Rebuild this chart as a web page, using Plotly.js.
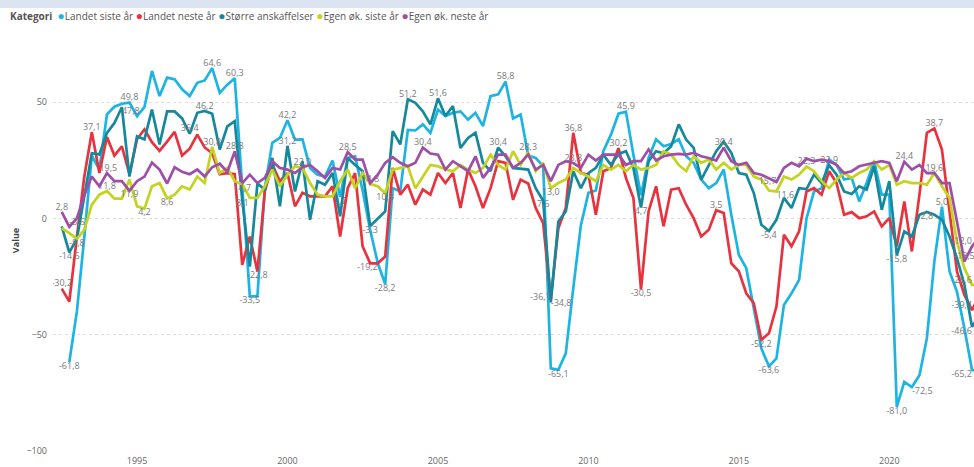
<!DOCTYPE html>
<html><head><meta charset="utf-8">
<script src="https://cdn.plot.ly/plotly-3.0.1.min.js"></script>
<style>
html,body{margin:0;padding:0;overflow:hidden;background:#fff;}
#band{position:absolute;left:0;top:0;width:974px;height:8px;background:#dbe4f0;z-index:5;}
#chart{position:absolute;left:0;top:0;width:974px;height:467px;}
</style></head><body>
<div id="chart"></div>
<div id="band"></div>
<script>
// Quarterly categories start at 1992 Q3
const startYear = 1992, startQuarter = 3, nQuarters = 123;

const seriesNames = ["Landet siste år", "Landet neste år", "Større anskaffelser", "Egen øk. siste år", "Egen øk. neste år"];
const seriesColors = ["#1DB4E4", "#E8333F", "#15899B", "#C3D31E", "#9E4EA6"];

const landetSiste = [
  null, -61.8, -40, -8, 27, 21, 44.7, 48, 49.3, 49.8,
  44, 47.8, 63.4, 52.6, 60.5, 59.8, 55.5, 52.6, 58.3, 59.3,
  64.6, 54, 57.5, 60.3, 12, -33.5, -33.5, 13, 32.5, 34.6,
  42.2, 33.9, 34, 21.7, 18.8, 18, 24.9, 9.2, 26, 26.7,
  12, -5, -19.2, -28.2, 13, 11.6, 38, 37.8, 40.4, 36.8,
  46.8, 44, 45.4, 46, 42.5, 45.4, 39.7, 52.6, 53.3, 58.8,
  43, 44.7, 27, 26, 22.4, -64.5, -65.1, -58, -30, -3,
  11, 12, 28.9, 36, 45, 45.9, 27.4, 10, 26, 34,
  31, 32, 34, 26.7, 23.9, 16.7, 13, 15.2, 21, 1.6,
  -15.7, -21.4, -38.6, -55.9, -63.6, -60.2, -37.2, -32.2, -26.4, 0,
  11.6, 13, 25.3, 23, 16.7, 17.4, 7.3, 15.2, 24.6, 10.2,
  10.2, -81, -70.3, -72.5, -67.4, -51.6, -18.5, 5, -22.8, -31.5,
  -47.3, -65.2, -65.5
];
const landetNeste = [
  -30.2, -35.8, -8, 18, 37.1, 19.5, 35, 27, 31, 19,
  34, 38.3, 32.8, 29, 33, 37.2, 27, 30, 36, 30.5,
  28, 19, 19.5, 19, -20, -7.8, -22.8, 11.6, 23, 16,
  19.5, 5.2, 11, 9.5, 9.5, 9.5, 13.8, -7.8, 13, 19.5,
  -12, -19.3, -19.3, -16.4, 21.7, 10.2, 14.5, 5.9, 12.4, 10.2,
  19.5, 15.2, 19.5, 4.5, 21, 13.8, 4.5, 13, 24.6, 23.9,
  8, 16.7, 15, 4.5, -2, -34.8, -4.2, 4.5, 36.8, 19.5,
  18.8, 1.6, 20.3, 21.7, 30.2, 17.4, 8.8, -30.5, 3, 13.8,
  -3.4, 12.4, 13, 5.9, 0.1, -7.8, -4.9, 3.5, 2.3, -19.3,
  -22.8, -32.2, -36.5, -52.2, -49.4, -37.9, -7, -12, -5.6, 11.6,
  13, 10.2, 20.3, 15.2, 1.6, 2.7, 0.1, 0.9, 3, -3.4,
  0.1, -12, 7.3, -14.2, 10.2, 36.8, 38.7, 29.6, 3, -22.8,
  -32.9, -39.4, -33
];
const storreAnskaffelser = [
  -3.4, -14.6, -8.8, 10, 28, 27.5, 36.8, 41, 47.8, 18,
  35.3, 34, 46.8, 31.8, 46, 46, 43, 36.4, 45.4, 46.2,
  45, 29.6, 39.6, 41.8, 8.1, -20.7, 15, 12.4, 26, 5.2,
  31.2, 11.6, 24.6, -0.6, 16, 14.5, 19.5, 0.9, 26, 23,
  20.3, -3.3, 0.1, 3, 37.5, 31.8, 51.2, 49.7, 46, 40.4,
  51.6, 44, 48.3, 30.3, 34.6, 36.8, 23.9, 20.3, 30.4, 26.7,
  21.7, 21.4, 21, 13, 7.6, -36.1, -1.3, 3, 20.3, 13,
  19.5, 21.7, 27.4, 23, 27.7, 28.9, 21.7, 4.7, 24.6, 28.9,
  28, 31, 40.4, 33.9, 30.3, 16.7, 23, 28.9, 33, 28.2,
  19.5, 18.8, 10.9, -2.7, -5.4, -0.6, 8.8, 4.5, 13, 12.6,
  18.8, 15.2, 22.9, 18.8, 11.6, 10.5, 13.8, 12.4, 22.4, 3.7,
  16, -15.8, -5.6, -7.8, 1.6, 2.8, 1.6, -0.6, -7.8, -17.1,
  -28.6, -46.6, -41.5
];
const egenSiste = [
  -4.2, -6.3, -8.8, -4.9, 5.9, 10.2, 11.8, 8.5, 8.5, 16.7,
  5.2, 4.2, 13.8, 15.2, 8.6, 10.2, 13.8, 12.4, 18, 15.2,
  30.8, 19.5, 21.7, 16, 14.7, 8.8, 8.8, 13.8, 21, 13.8,
  18.8, 22.4, 21.7, 15.2, 10.2, 9.5, 9.5, 16, 21, 13,
  19.5, 14.8, 13.8, 10.8, 21, 21.7, 22.4, 13, 18, 23,
  22.4, 21, 20.3, 23, 21, 19.5, 21.7, 27.4, 23, 21,
  28.9, 23, 28.3, 20.3, 23.9, 13, 15.2, 16.7, 21.7, 19.5,
  18, 16, 23, 21, 23, 20.3, 23, 21, 21.7, 23,
  28.9, 27.4, 23, 20.3, 26.7, 23.9, 25.3, 21, 23.9, 21,
  23, 23, 18, 16.7, 12, 11.6, 18, 16.7, 18.8, 22.3,
  20.3, 16, 13, 16.7, 19.5, 17.4, 19.5, 21, 24.6, 21,
  23, 14.5, 16, 15.2, 15.2, 14.5, 19.5, 13.8, 8.8, -10,
  -21.4, -28.6, -28.6
];
const egenNeste = [
  2.8, -3.6, 0, 10, 18, 13.8, 19.5, 16, 16, 11.9,
  16, 18, 24, 21, 15, 22, 20, 19, 21, 18,
  22, 23.5, 20, 28.8, 15.2, 18.8, 15.2, 17.4, 24.6, 21.7,
  21, 19.5, 22.0, 23, 20.3, 17.4, 21.7, 21, 28.5, 25.3,
  25.3, 15.2, 18.8, 23.9, 26.3, 23.9, 22.4, 23.9, 30.4, 27.9,
  27.4, 21, 24.6, 22.4, 20.3, 26.7, 17.4, 21.7, 27.4, 27.4,
  21.7, 23.9, 27.4, 21, 23, 16, 23, 24.6, 23.8, 21.7,
  27.4, 24.9, 27.4, 27.4, 27.4, 23, 24.6, 24.6, 29.6, 24.9,
  26.7, 27.4, 27.7, 27.4, 28.2, 26.7, 26, 24.9, 30.4, 24.6,
  23, 23.9, 19.5, 18.8, 17.4, 15.7, 21.7, 23.9, 22.4, 25.7,
  24.6, 25.3, 24.6, 23, 19.5, 20.3, 22.4, 23, 23.9, 24.6,
  23.9, 16, 24.4, 21, 23, 19.5, 19.6, 15.2, 15.2, -1.3,
  -18.5, -12, -8
];

// Which points carry a data label, and where the label sits
const labelsLandetSiste = [[1,"bottom center"],[9,"top center"],[20,"top center"],[23,"top center"],[25,"bottom center"],[30,"top center"],[37,"bottom center"],[42,"bottom left"],[43,"bottom center"],[59,"top center"],[66,"bottom center"],[75,"top center"],[94,"bottom center"],[111,"bottom center"],[113,"bottom right"],[117,"top center"],[121,"bottom left"]];
const labelsLandetNeste = [[0,"top center"],[4,"top center"],[5,"top right"],[26,"bottom center"],[65,"bottom right"],[68,"top center"],[74,"top center"],[77,"bottom center"],[87,"top center"],[93,"bottom center"],[116,"top center"],[121,"top left"]];
const labelsStorre = [[1,"bottom center"],[8,"bottom right"],[17,"top center"],[19,"top center"],[24,"bottom center"],[30,"top center"],[41,"bottom center"],[46,"top center"],[50,"top center"],[58,"top center"],[64,"bottom center"],[65,"top left"],[77,"bottom center"],[94,"bottom center"],[102,"top center"],[111,"bottom center"],[115,"bottom center"],[121,"bottom left"]];
const labelsEgenSiste = [[2,"bottom center"],[6,"top center"],[11,"bottom center"],[14,"bottom center"],[20,"top center"],[24,"bottom center"],[41,"top center"],[43,"bottom center"],[62,"top center"],[65,"bottom center"],[95,"bottom right"],[99,"top center"],[121,"top left"]];
const labelsEgenNeste = [[0,"top center"],[1,"top right"],[9,"bottom center"],[23,"top center"],[32,"top center"],[38,"top center"],[48,"top center"],[68,"top center"],[88,"top center"],[95,"middle left"],[112,"top center"],[116,"top center"],[120,"top center"],[121,"top left"]];

const quarters = [];
for (let k = 0; k < nQuarters; k++) {
  const q = (startQuarter - 1) + k;
  const y = startYear + Math.floor(q / 4);
  const m = (q % 4) * 3 + 1;
  quarters.push(y + "-" + String(m).padStart(2, "0") + "-01");
}

const allSeries = [landetSiste, landetNeste, storreAnskaffelser, egenSiste, egenNeste];
const allLabels = [labelsLandetSiste, labelsLandetNeste, labelsStorre, labelsEgenSiste, labelsEgenNeste];
const FONT = '"Segoe UI", "Open Sans", sans-serif';

function fmt(v) { return v.toFixed(1).replace(".", ","); }

const traces = allSeries.map((vals, s) => {
  const text = vals.map(() => "");
  const pos = vals.map(() => "top center");
  allLabels[s].forEach(([i, p]) => { if (vals[i] !== null) { text[i] = fmt(vals[i]); pos[i] = p; } });
  return {
    type: "scatter", mode: "lines+text", name: seriesNames[s],
    x: quarters, y: vals, text: text, textposition: pos,
    textfont: {family: FONT, size: 9, color: "#7a7a7a"},
    line: {color: seriesColors[s], width: 2.7}, connectgaps: false,
    hoverinfo: "skip", showlegend: false
  };
});

const legendHtml = "<b>Kategori</b>  " + seriesNames.map((n, k) =>
  '<span style="color:' + seriesColors[k] + ';font-size:12px">●</span>' + n).join(" ");

const plotW = 921, plotH = 421;
const layout = {
  width: 974, height: 467,
  margin: {l: 53, r: 0, t: 30, b: 16, pad: 0},
  paper_bgcolor: "#ffffff", plot_bgcolor: "#ffffff",
  showlegend: false,
  font: {family: FONT, color: "#666"},
  xaxis: {
    type: "date", range: ["1992-03-17", "2022-10-25"],
    tickformat: "%Y", dtick: "M60", tick0: "2000-01-01",
    showgrid: false, zeroline: false, showline: false, ticks: "",
    ticklabelstandoff: 3,
    tickfont: {family: FONT, size: 9, color: "#666"}, automargin: false
  },
  yaxis: {
    range: [-100, 81], dtick: 50, tick0: 0,
    showgrid: true, gridcolor: "#dedede", griddash: "dot", gridwidth: 1,
    zeroline: false, showline: false, ticks: "",
    tickfont: {family: FONT, size: 9, color: "#666"},
    ticklabelstandoff: 5, automargin: false,
    title: {text: "Value", font: {family: FONT, size: 9, color: "#444", weight: 700}, standoff: 5}
  },
  annotations: [{
    xref: "paper", yref: "paper", x: (8 - 53) / plotW, y: 1 + (30 - 15) / plotH,
    xanchor: "left", yanchor: "middle", showarrow: false, align: "left",
    text: legendHtml, font: {family: FONT, size: 10, color: "#555"}
  }]
};

Plotly.newPlot("chart", traces, layout, {displayModeBar: false, staticPlot: true});
</script>
</body></html>
